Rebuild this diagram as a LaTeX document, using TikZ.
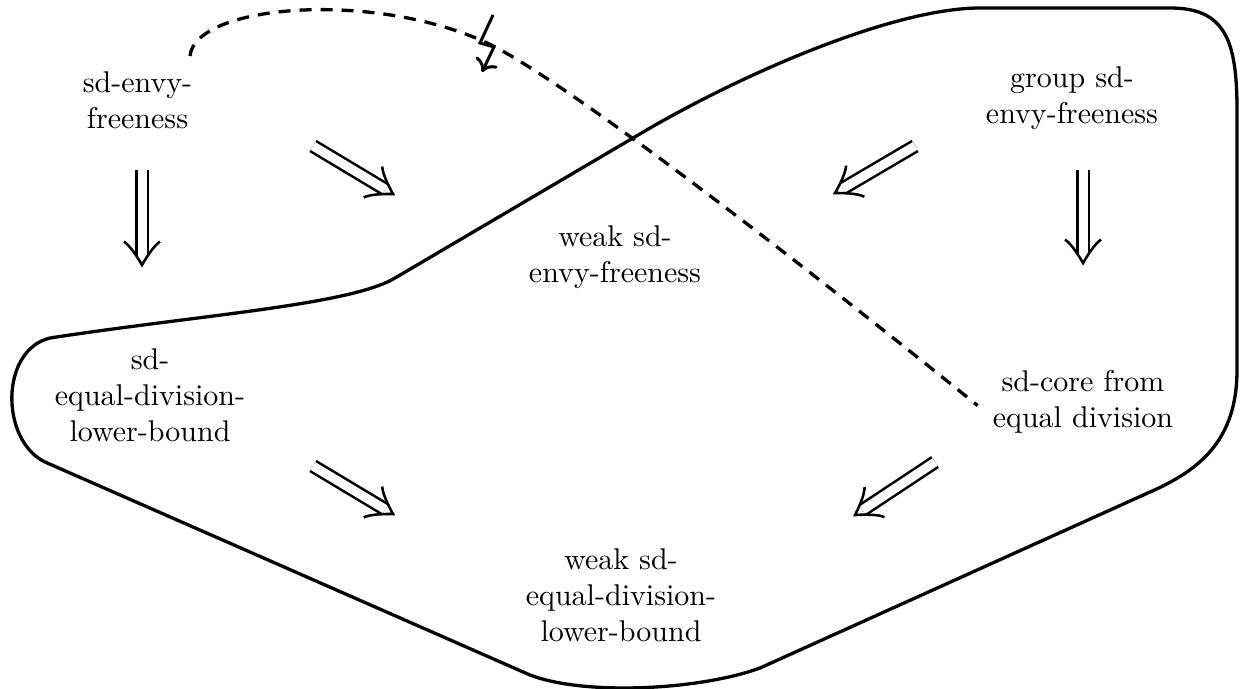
\documentclass[tikz,border=0pt]{standalone}
\usepackage{tikz}
\usetikzlibrary{arrows.meta}

\tikzset{pics/head/.style={code={
  \draw[line width=0.85pt] (-7.8pt,6pt) .. controls (-6.4pt,3.9pt) and (-2.6pt,1.5pt) .. (0,0)
    .. controls (-2.6pt,-1.5pt) and (-6.4pt,-3.9pt) .. (-7.8pt,-6pt);}}}

\begin{document}
\begin{tikzpicture}[scale=0.5857,
  prop/.style={align=center, inner sep=2pt},
  stem/.style={double, double distance=3pt, line width=0.85pt, shorten >=3pt},
  bolt/.style={line width=1pt, -{To[length=4pt, width=8pt]}}]
\useasboundingbox (0,0) rectangle (25,-13.78);
% the properties
\node[prop] (sdef)   at (2.75,-2.0)   {sd-envy-\\freeness};
\node[prop] (gsef)   at (21.44,-1.96) {group sd-\\envy-freeness};
\node[prop] (wsef)   at (12.3,-5.14)  {weak sd-\\envy-freeness};
\node[prop] (sdedl)  at (3.0,-7.9)    {sd-\\equal-division-\\lower-bound};
\node[prop] (sdcore) at (21.66,-8.04) {sd-core from\\equal division};
\node[prop] (wsedl)  at (12.42,-11.9) {weak sd-\\equal-division-\\lower-bound};
% ends of the implications
\coordinate (a1) at (2.84,-3.4);   \coordinate (b1) at (2.84,-5.3);
\coordinate (a2) at (21.66,-3.4);  \coordinate (b2) at (21.66,-5.26);
\coordinate (a3) at (6.26,-2.92);  \coordinate (b3) at (7.86,-3.88);
\coordinate (a4) at (18.3,-2.92);  \coordinate (b4) at (16.7,-3.86);
\coordinate (a5) at (6.26,-9.32);  \coordinate (b5) at (7.86,-10.28);
\coordinate (a6) at (18.7,-9.24);  \coordinate (b6) at (17.1,-10.3);
% double stem, then the open head turned along it
\foreach \s/\e/\ang in {a1/b1/-90, a2/b2/-90, a3/b3/-31, a4/b4/210.4, a5/b5/-31, a6/b6/213.5} {
  \draw[stem] (\s) -- (\e);
  \pic[rotate=\ang] at (\e) {head};
}
% the closed region
\draw[line width=1.1pt] (24.74,-7.4) .. controls (24.74,-8.8) and (24.0,-9.4) .. (23.0,-9.84)
  -- (15.2,-13.36) .. controls (14.0,-13.8) and (11.7,-13.92) .. (10.6,-13.5)
  -- (0.9,-9.24) .. controls (0,-8.8) and (0,-7.0) .. (1.0,-6.76)
  .. controls (4.0,-6.3) and (7.0,-6.1) .. (7.9,-5.56)
  -- (13.0,-2.56) .. controls (15.2,-1.3) and (18.0,-0.16) .. (19.6,-0.16)
  -- (23.4,-0.16) .. controls (24.5,-0.16) and (24.74,-0.8) .. (24.74,-2.2)
  -- cycle;
% counterexample
\draw[line width=1.1pt, dash pattern=on 4pt off 3pt] ([xshift=-5pt,yshift=5pt]sdef.north east)
  .. controls (3.9,-0.1) and (7.4,0.2) .. (9.7,-0.84)
  .. controls (11.2,-1.52) and (16.2,-5.4) .. ([xshift=-5pt,yshift=-2pt]sdcore.west);
\draw[bolt] (9.86,-0.3) -- (9.6,-0.86) -- (9.88,-0.94) -- (9.64,-1.44);
\end{tikzpicture}
\end{document}
